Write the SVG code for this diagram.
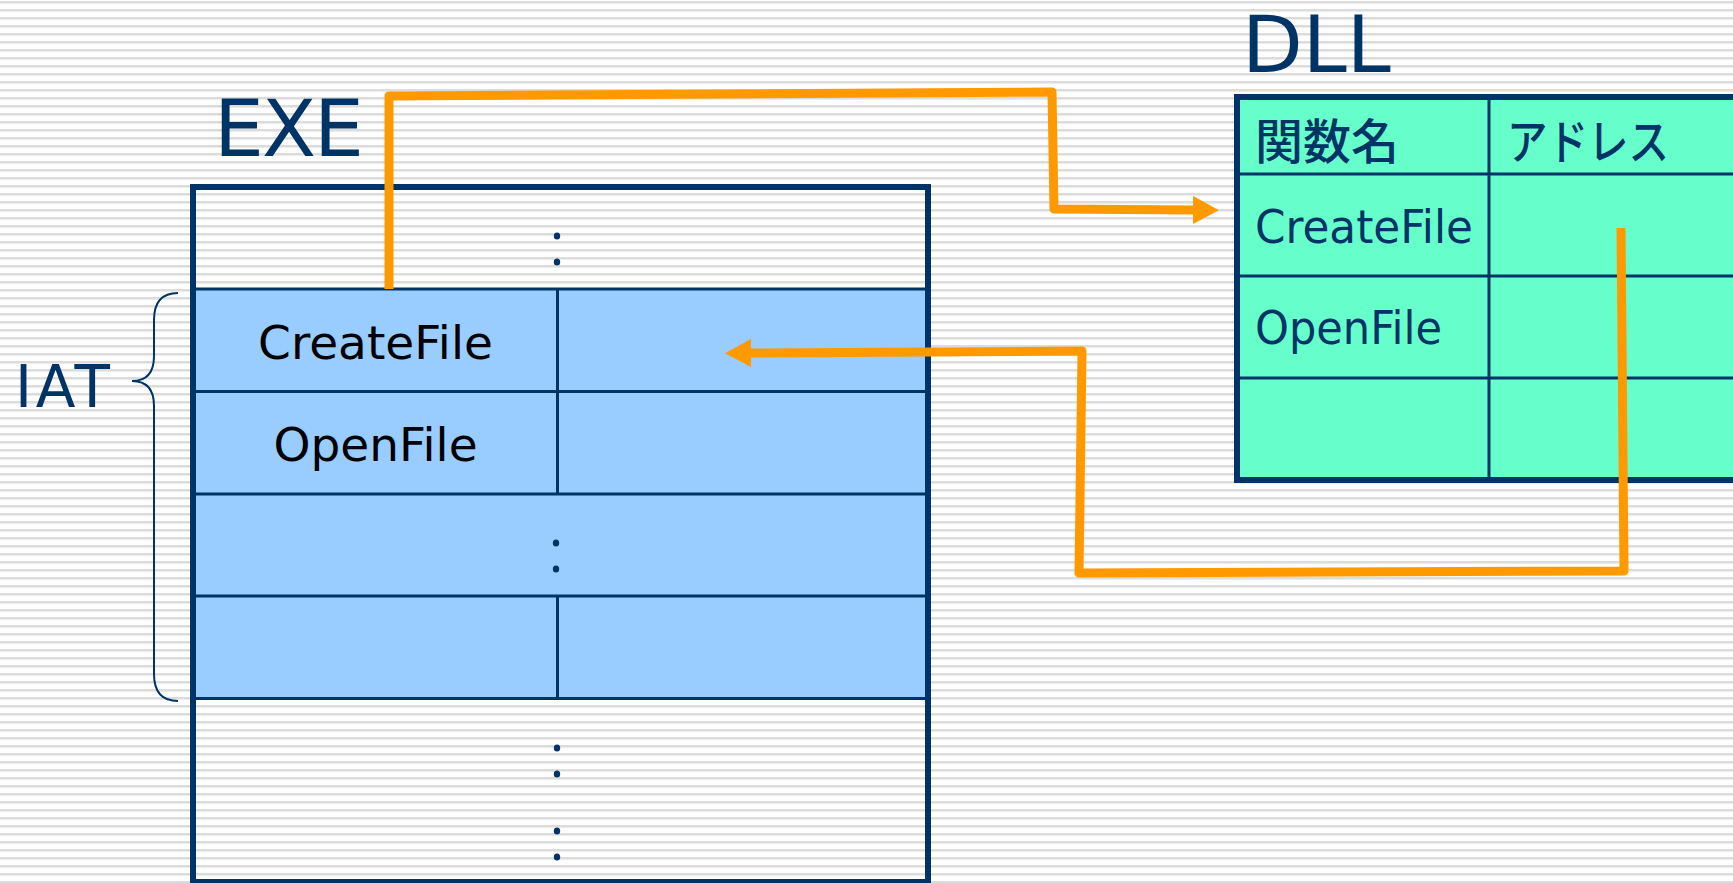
<svg xmlns="http://www.w3.org/2000/svg" width="1733" height="883" viewBox="0 0 1733 883">
<style>
.navy{stroke:#003366;fill:none}
.lbl{font-family:"DejaVu Sans","Noto Sans CJK JP",sans-serif;fill:#003366}
.cell{font-family:"DejaVu Sans",sans-serif;font-size:47px;fill:#000;text-anchor:middle}
.dcell{font-family:"DejaVu Sans Condensed","DejaVu Sans",sans-serif;font-stretch:condensed;font-size:46px;fill:#003366}
.jp{font-family:"Noto Sans CJK JP",sans-serif;font-size:48px;font-weight:500;fill:#003366}
.dot{fill:#003366}
.wire{stroke:#FF9900;stroke-width:9;fill:none;stroke-linejoin:round}
</style>
<defs>
<pattern id="stripes" width="8" height="8" patternUnits="userSpaceOnUse">
<rect width="8" height="8" fill="#ffffff"/>
<rect y="1" width="8" height="2" fill="#dcdcdc"/>
<rect y="3" width="8" height="1" fill="#ececec"/>
</pattern>
<marker id="ah" markerUnits="userSpaceOnUse" markerWidth="28" markerHeight="30" refX="1" refY="14" orient="auto" viewBox="0 0 28 28">
<path d="M0,0 L26,14 L0,28 Z" fill="#FF9900"/>
</marker>
</defs>
<rect width="1733" height="883" fill="url(#stripes)"/>

<g id="exe">
<text class="lbl" x="214" y="156" font-size="79" textLength="150" lengthAdjust="spacing">EXE</text>
<rect x="193" y="289" width="735" height="410" fill="#99CCFF"/>
<g class="navy" stroke-width="3">
<line x1="193" y1="289" x2="928" y2="289"/>
<line x1="193" y1="391.5" x2="928" y2="391.5"/>
<line x1="193" y1="494" x2="928" y2="494"/>
<line x1="193" y1="596" x2="928" y2="596"/>
<line x1="193" y1="698.5" x2="928" y2="698.5"/>
<line x1="557.5" y1="289" x2="557.5" y2="494"/>
<line x1="557.5" y1="596" x2="557.5" y2="698.5"/>
</g>
<rect class="navy" x="193" y="187" width="735" height="695" stroke-width="6"/>
<text class="cell" x="375.5" y="359">CreateFile</text>
<text class="cell" x="375.5" y="461">OpenFile</text>
<ellipse class="dot" cx="557" cy="236" rx="3.2" ry="3.6"/>
<ellipse class="dot" cx="557" cy="262" rx="3.2" ry="3.6"/>
<ellipse class="dot" cx="556" cy="543" rx="3.2" ry="3.6"/>
<ellipse class="dot" cx="556" cy="569" rx="3.2" ry="3.6"/>
<ellipse class="dot" cx="557" cy="748" rx="3.2" ry="3.6"/>
<ellipse class="dot" cx="557" cy="774" rx="3.2" ry="3.6"/>
<ellipse class="dot" cx="557" cy="831" rx="3.2" ry="3.6"/>
<ellipse class="dot" cx="557" cy="857" rx="3.2" ry="3.6"/>
</g>

<g id="iat">
<text class="lbl" x="15" y="407" font-size="58" textLength="95" lengthAdjust="spacing">IAT</text>
<path class="navy" stroke-width="2" d="M178,293 C162,293 154,302 154,320 L154,356 C154,373 147,381 132,381 C147,381 154,389 154,406 L154,674 C154,692 162,701 178,701"/>
</g>

<g id="dll">
<text class="lbl" x="1242" y="72" font-size="79">DLL</text>
<rect x="1237" y="97" width="540" height="383" fill="#66FFCC"/>
<g class="navy" stroke-width="3">
<line x1="1237" y1="174" x2="1733" y2="174"/>
<line x1="1237" y1="276" x2="1733" y2="276"/>
<line x1="1237" y1="378" x2="1733" y2="378"/>
<line x1="1489" y1="97" x2="1489" y2="480"/>
</g>
<rect class="navy" x="1237" y="97" width="540" height="383" stroke-width="6"/>
<text class="jp" x="1255" y="159">関数名</text>
<text class="jp" x="1507" y="159" textLength="162" lengthAdjust="spacingAndGlyphs">アドレス</text>
<text class="dcell" x="1255" y="243" textLength="218" lengthAdjust="spacingAndGlyphs">CreateFile</text>
<text class="dcell" x="1255" y="344" textLength="187" lengthAdjust="spacingAndGlyphs">OpenFile</text>
</g>

<g id="connectors">
<path class="wire" marker-end="url(#ah)" d="M389,289 L389,96 L1052,92 L1054,209 L1194,210"/>
<path class="wire" marker-end="url(#ah)" d="M1621,228 L1624,571 L1079,573 L1082,351 L750,353"/>
</g>
</svg>
